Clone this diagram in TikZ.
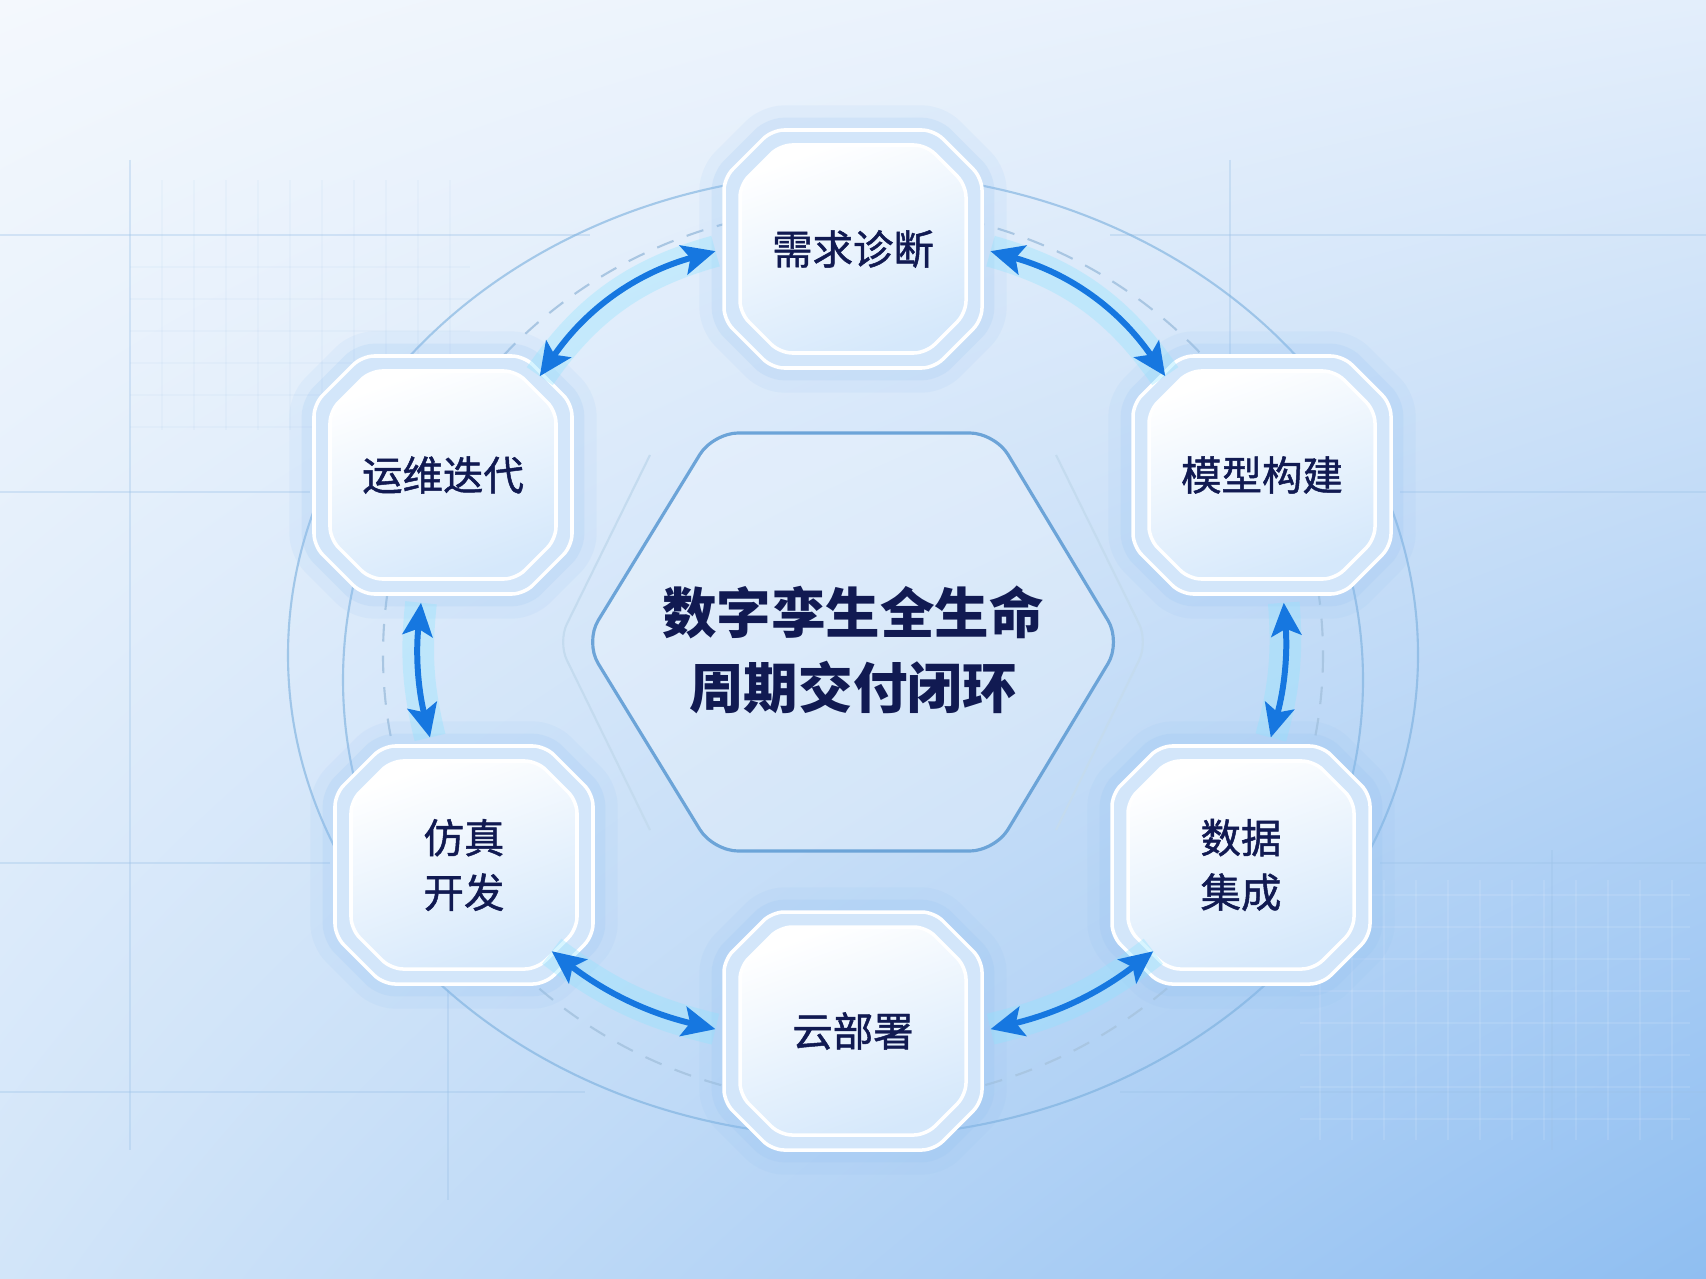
\documentclass[tikz,border=0pt]{standalone}
\usepackage{fontspec}
\newfontfamily\cjk{Noto Sans CJK SC}
\newfontfamily\cjkmid{Noto Sans CJK SC}[FakeBold=1.2]
\definecolor{navy}{HTML}{111A52}
\definecolor{bgtl}{HTML}{F4F8FD}
\definecolor{bgtr}{HTML}{E3EEFB}
\definecolor{bgbl}{HTML}{D2E5F9}
\definecolor{bgbr}{HTML}{8FBEF1}
\definecolor{ringblue}{HTML}{78AEDD}
\definecolor{dashblue}{HTML}{A9C6E2}
\definecolor{hexline}{HTML}{6CA4D8}
\definecolor{gridblue}{HTML}{9DC3E8}
\definecolor{boxouter}{HTML}{D3E6FA}
\definecolor{boxinner}{HTML}{D5E8FB}
\definecolor{glow}{HTML}{8FBFF2}
\definecolor{arrowblue}{HTML}{1677E0}
\definecolor{cyanglow}{HTML}{8FE4FF}
\usetikzlibrary{shapes.misc, arrows.meta, shadings}

\begin{document}
\begin{tikzpicture}[
  x=0.01cm, y=-0.01cm,
  octout/.style={insert path={(-81,-119) -- (81,-119) -- (129,-71) -- (129,71)
    -- (81,119) -- (-81,119) -- (-129,71) -- (-129,-71) -- cycle}},
  octin/.style={insert path={(-73,-104) -- (73,-104) -- (113,-64) -- (113,64)
    -- (73,104) -- (-73,104) -- (-113,64) -- (-113,-64) -- cycle}},
  stagebox/.pic={
    \path[draw=glow, line width=14pt, opacity=0.1, rounded corners=0.12cm, octout];
    \path[draw=glow, line width=7pt, opacity=0.16, rounded corners=0.12cm, octout];
    \path[fill=boxouter, draw=white, line width=1pt, rounded corners=0.12cm, octout];
    \path[top color=white, bottom color=boxinner, shading angle=20, draw=white,
      line width=1pt, rounded corners=0.12cm, octin];
  },
  stage/.style={chamfered rectangle, chamfered rectangle sep=0.46cm,
    minimum width=2.58cm, minimum height=2.38cm, inner sep=0pt,
    font=\cjkmid\fontsize{11.5}{15.5}\selectfont, text=navy, align=center},
  link/.style={<->, >={Stealth[length=0.33cm, width=0.3cm, inset=0.07cm]},
    draw=arrowblue, line width=1.7pt, shorten <=0.08cm, shorten >=0.08cm,
    preaction={draw=cyanglow, line width=9pt, opacity=0.35, -}},
  faint/.style={gridblue, line width=0.6pt, opacity=0.35},
]
\useasboundingbox (0,0) rectangle (1706,1279);
\shade[upper left=bgtl, upper right=bgtr, lower left=bgbl, lower right=bgbr] (0,0) rectangle (1706,1279);

% Background grid
\draw[faint] (0,235) -- (590,235) (1110,235) -- (1706,235);
\draw[faint] (0,492) -- (310,492) (1400,492) -- (1706,492);
\draw[faint] (0,863) -- (330,863) (1380,863) -- (1706,863);
\draw[faint] (0,1092) -- (585,1092) (1120,1092) -- (1706,1092);
\draw[faint] (130,160) -- (130,1150) (1230,160) -- (1230,400) (1552,850) -- (1552,1150) (448,990) -- (448,1200);
\foreach \gx in {162,194,...,450} {
  \draw[gridblue, opacity=0.08, line width=0.4pt] (\gx,180) -- (\gx,430);
}
\foreach \gy in {267,299,...,430} {
  \draw[gridblue, opacity=0.08, line width=0.4pt] (130,\gy) -- (470,\gy);
}
\foreach \gx in {1320,1352,...,1680} {
  \draw[white, opacity=0.1, line width=0.4pt] (\gx,880) -- (\gx,1140);
}
\foreach \gy in {895,927,...,1140} {
  \draw[white, opacity=0.1, line width=0.4pt] (1300,\gy) -- (1690,\gy);
}

% Rings
\draw[ringblue, line width=0.6pt, opacity=0.6] (853,655) ellipse [x radius=565, y radius=482];
\draw[dashblue, line width=0.6pt, dash pattern=on 5pt off 4pt] (853,655) ellipse [x radius=470, y radius=448];
\draw[ringblue, line width=0.6pt, opacity=0.6] (853,680) ++(165:510 and 470) arc[start angle=165, end angle=195, x radius=510, y radius=470];
\draw[ringblue, line width=0.6pt, opacity=0.6] (853,680) ++(-15:510 and 470) arc[start angle=-15, end angle=15, x radius=510, y radius=470];

% Centre hexagon
\draw[hexline!40, line width=0.6pt, rounded corners=0.2cm] (650,455) -- (558,642) -- (650,830);
\draw[hexline!40, line width=0.6pt, rounded corners=0.2cm] (1056,455) -- (1148,642) -- (1056,830);
\draw[hexline, line width=0.9pt, rounded corners=0.25cm, fill=white, fill opacity=0.25]
  (713,433) -- (995,433) -- (1121,642) -- (995,851) -- (713,851) -- (585,642) -- cycle;
\node[font=\cjk\bfseries\fontsize{15.5}{21.5}\selectfont, text=navy, align=center] (title) at (853,650) {数字孪生全生命\\周期交付闭环};

% Stages
\foreach \n/\x/\y/\txt in {req/853/249/需求诊断, model/1262/475/模型构建, data/1241/865/数据\\集成,
    cloud/853/1031/云部署, sim/464/865/仿真\\开发, ops/443/475/运维迭代} {
  \pic at (\x,\y) {stagebox};
  \node[stage] (\n) at (\x,\y) {\txt};
}

% Links
\draw[link] (req.west) to[bend right=20] (ops.45);
\draw[link] (req.east) to[bend left=20] (model.135);
\draw[link] (model.-80) to[bend left=10] (data.77);
\draw[link] (data.225) to[bend left=12] (cloud.east);
\draw[link] (cloud.west) to[bend left=12] (sim.-45);
\draw[link] (sim.105) to[bend left=10] (ops.-100);
\end{tikzpicture}
\end{document}
